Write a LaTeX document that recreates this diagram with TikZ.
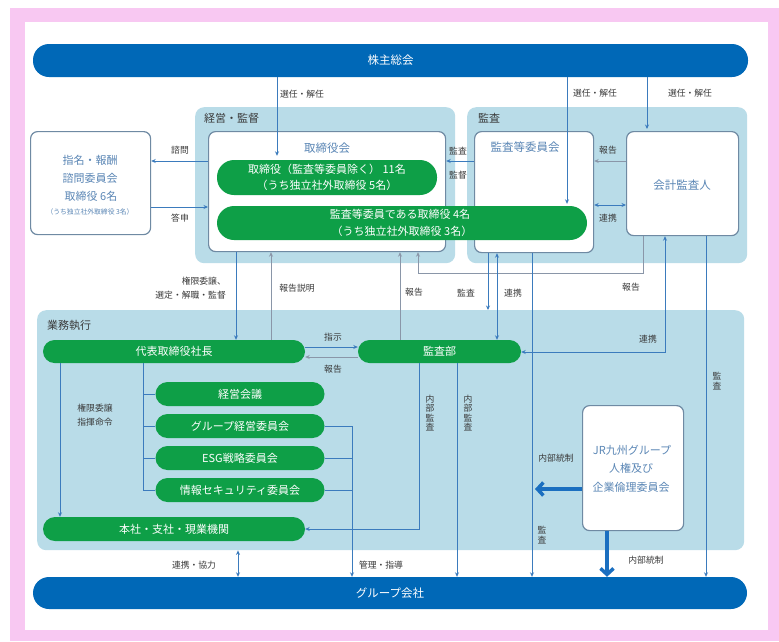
\documentclass[tikz,border=0pt]{standalone}
\usepackage{fontspec}
\setmainfont{Noto Sans CJK JP}
\usetikzlibrary{arrows.meta}
\definecolor{pinkf}{HTML}{F8C8F2}
\definecolor{barblue}{HTML}{0068B7}
\definecolor{pgreen}{HTML}{0E9F47}
\definecolor{regblue}{HTML}{B9DCE8}
\definecolor{boxline}{HTML}{6F8AA3}
\definecolor{boxtext}{HTML}{5A86B5}
\definecolor{lineblue}{HTML}{3B7BBD}
\definecolor{repline}{HTML}{8A96A8}
\definecolor{lblgray}{HTML}{3A3A3A}
\definecolor{thickblue}{HTML}{1B6FC0}
\tikzset{
  bar/.style={fill=barblue, rounded corners=16pt, text=white, inner sep=0pt, font=\fontsize{11.5}{13}\selectfont},
  region/.style={fill=regblue, rounded corners=9pt, inner sep=0pt, anchor=north west},
  rlabel/.style={text=lblgray, inner sep=0pt, anchor=west, font=\fontsize{11}{13}\selectfont},
  wbox/.style={fill=white, draw=boxline, line width=1.2pt, rounded corners=7pt, inner sep=0pt, anchor=north west},
  btitle/.style={text=boxtext, inner sep=0pt, font=\fontsize{11.5}{13}\selectfont},
  pill/.style={fill=pgreen, text=white, inner sep=0pt, align=center, rounded corners=#1, font=\fontsize{11}{16.5}\selectfont},
  lbl/.style={text=lblgray, inner sep=1pt, font=\fontsize{8.8}{10}\selectfont},
  vlbl/.style={text=lblgray, inner sep=1pt, align=center, font=\fontsize{8.8}{9.4}\selectfont},
  conn/.style={draw=lineblue, line width=0.9pt},
  rconn/.style={draw=repline, line width=0.9pt},
  arr/.style={-{Stealth[length=4.5pt,width=4pt]}},
  darr/.style={{Stealth[length=4.5pt,width=4pt]}-{Stealth[length=4.5pt,width=4pt]}},
  thick arrow/.style={draw=thickblue, line width=3.5pt, -{Straight Barb[length=6pt,width=13pt]}},
}
\begin{document}
\begin{tikzpicture}[x=1pt,y=-1pt]
\useasboundingbox (0,0) rectangle (779,641);
\fill[white] (0,0) rectangle (779,641);
\fill[pinkf] (10,8) rectangle (779,641);
\fill[white] (25,22) rectangle (768,630);

% column / row helper coordinates
\coordinate (c60) at (60,0);
\coordinate (c143) at (143,0);
\coordinate (c236) at (236,0);
\coordinate (c238) at (238,0);
\coordinate (c271) at (271,0);
\coordinate (c277) at (277,0);
\coordinate (c352) at (352,0);
\coordinate (c400) at (400,0);
\coordinate (c418) at (418,0);
\coordinate (c419) at (419,0);
\coordinate (c457) at (457,0);
\coordinate (c488) at (488,0);
\coordinate (c497) at (497,0);
\coordinate (c532) at (532,0);
\coordinate (c535) at (535,0);
\coordinate (c567) at (567,0);
\coordinate (c607) at (607,0);
\coordinate (c643) at (643,0);
\coordinate (c647) at (647,0);
\coordinate (c665) at (665,0);
\coordinate (c706) at (706,0);
\coordinate (r161) at (0,161);
\coordinate (r205) at (0,205);
\coordinate (r207) at (0,207);
\coordinate (r273) at (0,273);
\coordinate (r347) at (0,347);
\coordinate (r352) at (0,352);
\coordinate (r357) at (0,357);
\coordinate (r489) at (0,489);

% bars
\node[bar, minimum width=715pt, minimum height=33pt] (top) at (390.5,60.5) {株主総会};
\node[bar, minimum width=714pt, minimum height=32pt] (bot) at (390,593) {グループ会社};

% regions
\node[region, minimum width=260pt, minimum height=156pt] (rg1) at (195,107) {};
\node[region, minimum width=280pt, minimum height=156pt] (rg2) at (467,107) {};
\node[region, minimum width=707pt, minimum height=240pt] (exec) at (37,310) {};
\node[rlabel] (rg1t) at (204,118) {経営・監督};
\node[rlabel] (rg2t) at (478,118) {監査};
\node[rlabel] (exect) at (47,325) {業務執行};

% white boxes
\node[wbox, minimum width=237pt, minimum height=120pt] (tb) at (208,131) {};
\node[wbox, minimum width=119pt, minimum height=121pt] (kc) at (474,131) {};
\node[wbox, minimum width=112pt, minimum height=104pt] (ka) at (626,131) {};
\node[wbox, minimum width=120pt, minimum height=103pt] (sm) at (30,131) {};
\node[wbox, minimum width=101pt, minimum height=125pt] (jr) at (582,405) {};

\node[btitle] (tbt) at (327,148) {取締役会};
\node[btitle] (kct) at (525,147) {監査等委員会};
\node[btitle] (kat) at (682,185) {会計監査人};
\node[btitle, font=\fontsize{11}{13}\selectfont] (sm1) at (90,160) {指名・報酬};
\node[btitle, font=\fontsize{11}{13}\selectfont] (sm2) at (90,178) {諮問委員会};
\node[btitle, font=\fontsize{11}{13}\selectfont] (sm3) at (91,196) {取締役\ 6名};
\node[btitle, font=\fontsize{6.8}{8}\selectfont] (sm4) at (90,212) {（うち独立社外取締役 3名）};
\node[btitle, font=\fontsize{11}{13}\selectfont] (jr1) at (632,450) {JR九州グループ};
\node[btitle, font=\fontsize{11}{13}\selectfont] (jr2) at (631,468) {人権及び};
\node[btitle, font=\fontsize{11}{13}\selectfont] (jr3) at (631,487) {企業倫理委員会};

% green pills
\node[pill=17pt, minimum width=220pt, minimum height=35pt] (p1) at (327,177.5) {取締役（監査等委員除く）\ 11名\\（うち独立社外取締役 5名）};
\node[pill=17pt, minimum width=370pt, minimum height=34pt] (p2) at (402,223) {\hspace*{-4pt}監査等委員である取締役 4名\\（うち独立社外取締役 3名）};
\node[pill=11.5pt, minimum width=262pt, minimum height=23pt] (dai) at (174,351.5) {代表取締役社長};
\node[pill=11.5pt, minimum width=163pt, minimum height=23pt] (kb) at (439.5,351.5) {監査部};
\node[pill=12pt, minimum width=169pt, minimum height=24pt] (c1) at (240,394) {経営会議};
\node[pill=12pt, minimum width=169pt, minimum height=24pt] (c2) at (240,426) {グループ経営委員会};
\node[pill=12pt, minimum width=169pt, minimum height=24pt] (c3) at (240,458) {ESG戦略委員会};
\node[pill=12pt, minimum width=169pt, minimum height=24pt] (c4) at (240,490) {情報セキュリティ委員会};
\node[pill=12pt, minimum width=262pt, minimum height=24pt] (hq) at (174,529) {本社・支社・現業機関};

% shareholders' meeting arrows
\draw[conn, arr, shorten >=4pt] (top.south -| c277) -- (p1.north -| c277);
\draw[conn, arr, shorten >=2pt] (top.south -| c567) -- (p2.north -| c567);
\draw[conn, arr, shorten >=2pt] (top.south -| c647) -- (ka.north -| c647);
\node[lbl] (l1) at (302,94) {選任・解任};
\node[lbl] (l2) at (595,93) {選任・解任};
\node[lbl] (l3) at (690,93) {選任・解任};

% nomination committee
\draw[conn, arr] (tb.west |- r161) -- (sm.east |- r161);
\draw[conn, arr] (sm.east |- r207) -- (tb.west |- r207);
\node[lbl] (l4) at (180,150) {諮問};
\node[lbl] (l5) at (180,218) {答申};

% audit committee <-> board, auditor
\draw[conn, arr] (kc.west |- r161) -- (tb.east |- r161);
\node[lbl] (l6) at (458,151) {監査};
\node[lbl] (l7) at (458,175) {監督};
\draw[rconn, arr] (ka.west |- r161) -- (kc.east |- r161);
\node[lbl] (l8) at (608,150) {報告};
\draw[conn, darr] (kc.east |- r205) -- (ka.west |- r205);
\node[lbl] (l9) at (608,218) {連携};

% board <-> president
\draw[conn, arr] (tb.south -| c236) -- (dai.north -| c236);
\node[lbl, align=right, anchor=east, font=\fontsize{8.8}{14.5}\selectfont] (l10) at (227,288) {権限委譲、\\選定・解職・監督};
\draw[rconn, arr] (dai.north -| c271) -- (tb.south -| c271);
\node[lbl] (l11) at (297,288) {報告説明};
\draw[rconn, arr] (kb.north -| c400) -- (tb.south -| c400);
\node[lbl] (l12) at (414,292) {報告};
\draw[rconn, arr] (ka.south -| c643) -- (c643 |- r273) -- (c418 |- r273) -- (tb.south -| c418);
\node[lbl] (l13) at (631,287) {報告};

% audit committee downward
\draw[conn, arr] (kc.south -| c488) -- (exec.north -| c488);
\node[lbl] (l14) at (466,293) {監査};
\draw[conn, darr] (kc.south -| c497) -- (kb.north -| c497);
\node[lbl] (l15) at (513,293) {連携};
\draw[conn, arr] (kc.south -| c532) -- (bot.north -| c532);
\node[vlbl] (l16) at (542,535) {監\\査};

% auditor downward
\draw[conn, darr] (kb.east |- r352) -- (c665 |- r352) -- (ka.south -| c665);
\node[lbl] (l17) at (648,339) {連携};
\draw[conn, arr] (ka.south -| c706) -- (bot.north -| c706);
\node[vlbl] (l18) at (717,381) {監\\査};

% president <-> audit dept
\draw[conn, arr] (dai.east |- r347) -- (kb.west |- r347);
\node[lbl] (l19) at (333,337) {指示};
\draw[rconn, arr] (kb.west |- r357) -- (dai.east |- r357);
\node[lbl] (l20) at (333,369) {報告};

% committees bracket
\draw[conn] (dai.south -| c143) -- (c143 |- c4.west) -- (c4.west);
\draw[conn] (c143 |- c1.west) -- (c1.west);
\draw[conn] (c143 |- c2.west) -- (c2.west);
\draw[conn] (c143 |- c3.west) -- (c3.west);

% president -> HQ
\draw[conn, arr] (dai.south -| c60) -- (hq.north -| c60);
\node[lbl, align=center, font=\fontsize{8.8}{14.5}\selectfont] (l21) at (95,415) {権限委譲\\指揮命令};

% right bracket to group companies
\draw[conn] (c2.east) -- (c352 |- c2.east);
\draw[conn] (c3.east) -- (c352 |- c3.east);
\draw[conn] (c4.east) -- (c352 |- c4.east);
\draw[conn, arr] (c352 |- c2.east) -- (bot.north -| c352);
\node[lbl] (l22) at (381,565) {管理・指導};

% internal audit
\draw[conn, arr] (kb.south -| c419) -- (c419 |- hq.east) -- (hq.east);
\node[vlbl] (l23) at (430,413) {内\\部\\監\\査};
\draw[conn, arr] (kb.south -| c457) -- (bot.north -| c457);
\node[vlbl] (l24) at (468,413) {内\\部\\監\\査};

% cooperation
\draw[conn, darr] (exec.south -| c238) -- (bot.north -| c238);
\node[lbl] (l25) at (194,565) {連携・協力};

% internal control thick arrows
\draw[thick arrow] (jr.west |- r489) -- (c535 |- r489);
\node[lbl] (l26) at (556,458) {内部統制};
\draw[thick arrow] (jr.south -| c607) -- (bot.north -| c607);
\node[lbl] (l27) at (646,560) {内部統制};
\end{tikzpicture}
\end{document}
